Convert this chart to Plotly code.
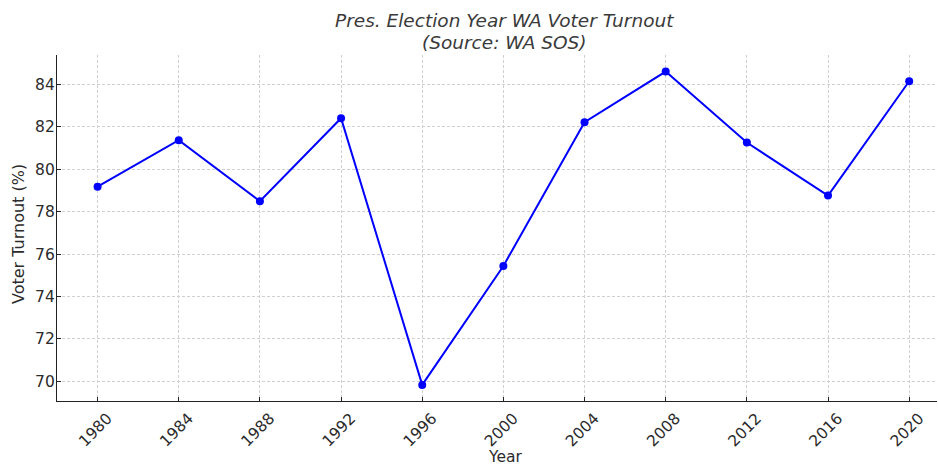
import plotly.graph_objects as go

years = [1980, 1984, 1988, 1992, 1996, 2000, 2004, 2008, 2012, 2016, 2020]
turnout = [79.18, 81.37, 78.49, 82.41, 69.83, 75.44, 82.22, 84.61, 81.26, 78.76, 84.15]
y_ticks = [70, 72, 74, 76, 78, 80, 82, 84]
title_lines = ["Pres. Election Year WA Voter Turnout", "(Source: WA SOS)"]
x_label = "Year"
y_label = "Voter Turnout (%)"

L, R, T, B = 57, 1, 55, 65
W, H = 938, 466
pw, ph = W - L - R, H - T - B

def px_x(x):
    return (x - L) / pw

def px_y(y):
    return (H - B - y) / ph

fig = go.Figure()
fig.add_trace(go.Scatter(
    x=years, y=turnout, mode="lines+markers",
    line=dict(color="#0000ff", width=2),
    marker=dict(color="#0000ff", size=8),
    showlegend=False, cliponaxis=False,
))

font_family = "DejaVu Sans"
txt = "#2b2b2b"
fig.update_layout(
    width=W, height=H,
    margin=dict(l=L, r=R, t=T, b=B, autoexpand=False),
    paper_bgcolor="white", plot_bgcolor="white",
    font=dict(family=font_family, color=txt, size=15.5),
)
for line, ypx in zip(title_lines, [20, 42]):
    fig.add_annotation(
        text="<i>" + line + "</i>", xref="paper", yref="paper",
        x=px_x(504), y=px_y(ypx), xanchor="center", yanchor="middle",
        showarrow=False, font=dict(size=18.5, color="#3a3a3a", family=font_family),
    )
fig.add_annotation(
    text=x_label, xref="paper", yref="paper", x=px_x(505), y=px_y(457),
    xanchor="center", yanchor="middle", showarrow=False,
    font=dict(size=15.5, color=txt),
)
fig.add_annotation(
    text=y_label, xref="paper", yref="paper", x=px_x(19), y=px_y(234),
    xanchor="center", yanchor="middle", showarrow=False, textangle=-90,
    font=dict(size=16, color=txt),
)

grid_dash = "3px,2px"
fig.update_xaxes(
    range=[1978, 1978 + pw / 20.29],
    tickmode="array", tickvals=years, ticktext=[str(y) for y in years],
    tickangle=-45, automargin=False,
    showgrid=True, gridcolor="#d0d0d0", griddash=grid_dash, gridwidth=1,
    showline=True, linecolor="#222222", linewidth=1.3,
    ticks="inside", ticklen=4, tickcolor="#222222",
    zeroline=False, ticklabelstandoff=1, ticklabelshift=10,
    tickfont=dict(size=15.5, color=txt),
)
fig.update_yaxes(
    range=[69.07, 85.39],
    tickmode="array", tickvals=y_ticks, automargin=False,
    showgrid=True, gridcolor="#d0d0d0", griddash=grid_dash, gridwidth=1,
    showline=True, linecolor="#222222", linewidth=1.3,
    ticks="inside", ticklen=4, tickcolor="#222222",
    zeroline=False, ticklabelstandoff=-2,
    tickfont=dict(size=15.5, color=txt),
)

fig.write_html("out.html", config={"displayModeBar": False},
               post_script="document.body.style.margin='0';")
